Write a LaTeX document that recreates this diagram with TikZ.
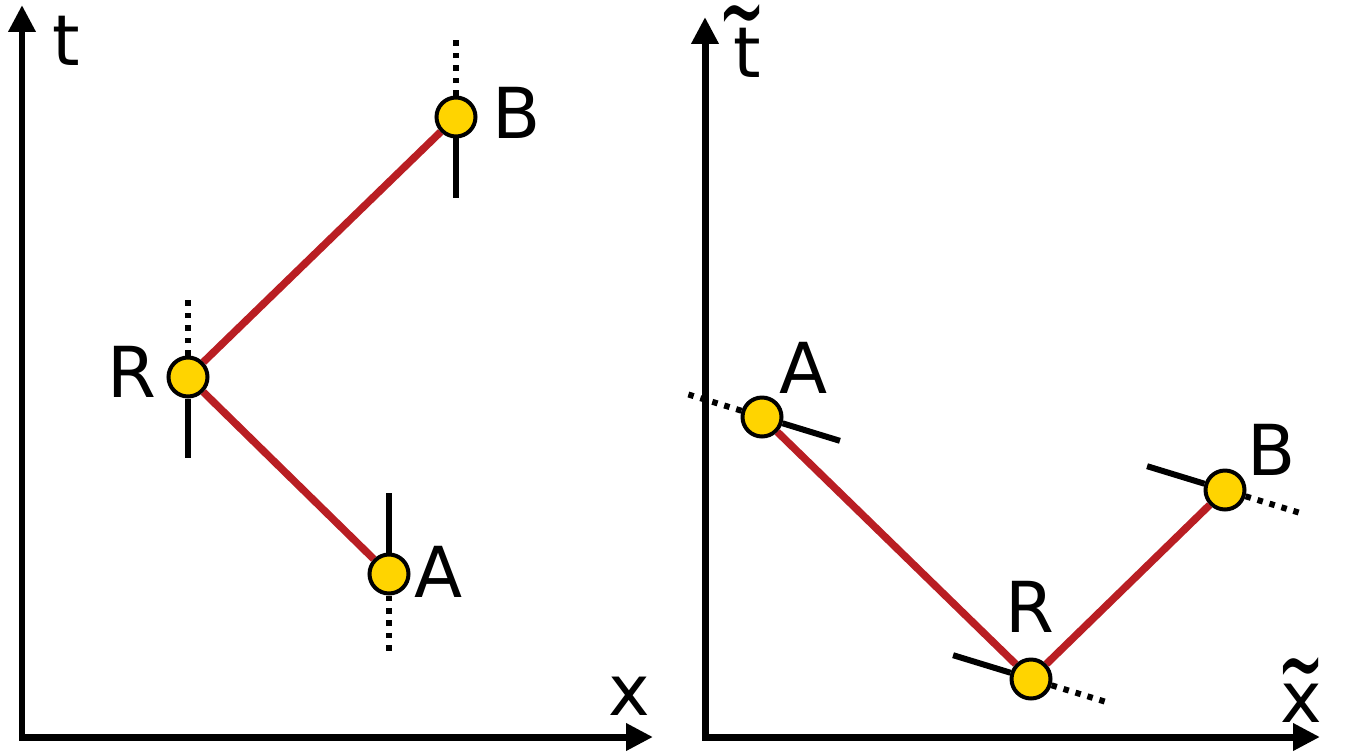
\documentclass[tikz,border=0pt]{standalone}
\usepackage{fontspec}
\setmainfont{DejaVu Sans}
\usetikzlibrary{arrows.meta}
\definecolor{gold}{RGB}{255,212,0}
\definecolor{pathred}{RGB}{185,30,35}
\tikzstyle{axis} = [line width=0.14cm, line join=miter,
	{Triangle[length=0.54cm,width=0.52cm]}-{Triangle[length=0.54cm,width=0.52cm]}]
\tikzstyle{event} = [circle, draw, fill=gold, line width=0.08cm,
	minimum size=0.78cm, inner sep=0pt]
\tikzstyle{worldline} = [draw=pathred, line width=0.15cm]
\tikzstyle{solidtick} = [line width=0.12cm]
\tikzstyle{dottick} = [line width=0.12cm, dash pattern=on 0.11cm off 0.14cm]
\tikzstyle{lbl} = [inner sep=0pt, anchor=base, font=\fontsize{40}{48}\selectfont]
% letter with a large wavy tilde over it
\newcommand{\wavylbl}[3]{\ooalign{#1\cr\hidewidth\hspace*{#3}\raisebox{#2}{\scalebox{0.8}[1.5]{\char"7E}}\hidewidth\cr}}

\begin{document}
\begin{tikzpicture}[x=0.02cm, y=-0.02cm]
		\useasboundingbox (0,0) rectangle (1349,754);
		%Axes
		\coordinate (o1) at (22,737);
		\coordinate (o2) at (705,737);
		\draw [axis] (22,5) -- (o1) -- (653,737);
		\draw [axis] (705,17) -- (o2) -- (1320,737);
		\node [lbl] (t1) at (66,65) {t};
		\node [lbl] (x1) at (629,715) {x};
		\node [lbl] (t2) at (747,77) {\wavylbl{t}{0.62cm}{-0.2cm}};
		\node [lbl] (x2) at (1301,722) {\wavylbl{x}{0.46cm}{0cm}};
		
		%Place events
		\node [event] (lA) at (389,574) {};
		\node [event] (lR) at (188,377) {};
		\node [event] (lB) at (456,117) {};
		\node [event] (rA) at (762,417) {};
		\node [event] (rR) at (1031,679) {};
		\node [event] (rB) at (1225,490) {};
		
		\node [lbl] (lAl) at (439,597) {A};
		\node [lbl] (lRl) at (132,397) {R};
		\node [lbl] (lBl) at (517,138) {B};
		\node [lbl] (rAl) at (804,393) {A};
		\node [lbl] (rRl) at (1030,632) {R};
		\node [lbl] (rBl) at (1272,475) {B};
		
		%Draw world lines
		\draw [worldline] (lA) -- (lR) -- (lB);
		\draw [worldline] (rA) -- (rR) -- (rB);
		
		%Draw ticks
		\draw [dottick] (lB.north) -- ++(0,1.2cm);
		\draw [solidtick] (lB.south) -- ++(0,-1.2cm);
		\draw [dottick] (lR.north) -- ++(0,1.2cm);
		\draw [solidtick] (lR.south) -- ++(0,-1.2cm);
		\draw [solidtick] (lA.north) -- ++(0,1.2cm);
		\draw [dottick] (lA.south) -- ++(0,-1.2cm);
		
		\draw [dottick] (rA.163) -- ++(163:1.2cm);
		\draw [solidtick] (rA.-17) -- ++(-17:1.2cm);
		\draw [solidtick] (rR.163) -- ++(163:1.2cm);
		\draw [dottick] (rR.-17) -- ++(-17:1.2cm);
		\draw [solidtick] (rB.163) -- ++(163:1.2cm);
		\draw [dottick] (rB.-17) -- ++(-17:1.2cm);
		
	\end{tikzpicture}
\end{document}
